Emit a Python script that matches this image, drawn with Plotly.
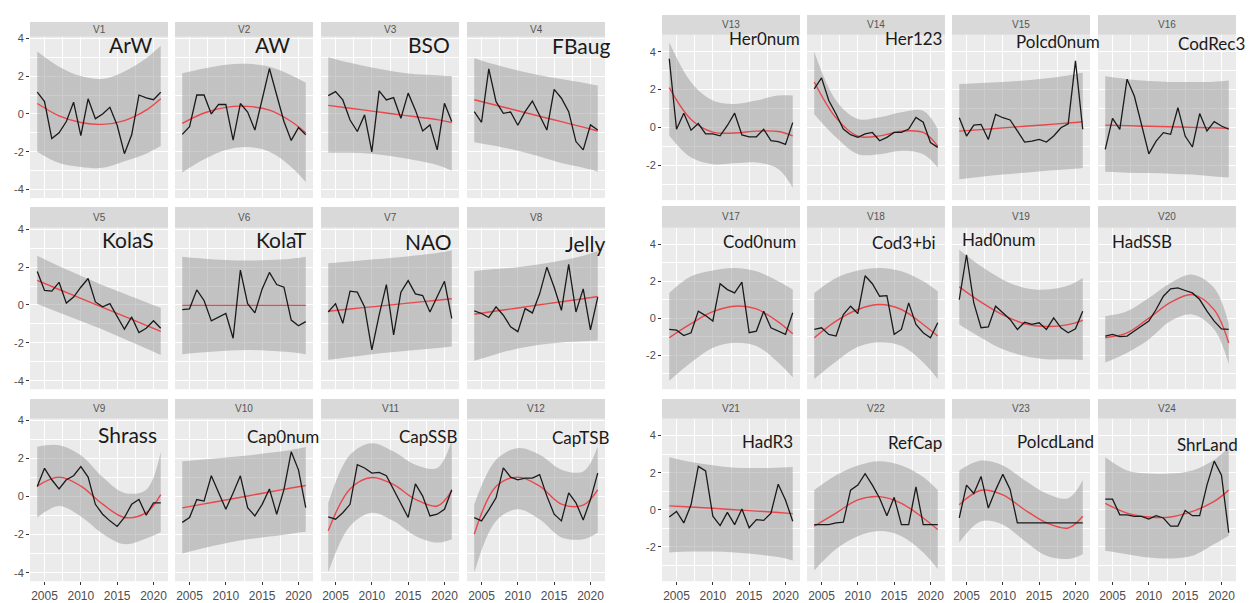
import plotly.graph_objects as go

# ---------------- data ----------------
YEARS = list(range(2004, 2022))
FIT_YEARS = [2004, 2007, 2010, 2013, 2016, 2019, 2021]
PANELS = ["V%d" % k for k in range(1, 25)]
LABELS = ["ArW", "AW", "BSO", "FBaug", "KolaS", "KolaT", "NAO", "Jelly",
          "Shrass", "Cap0num", "CapSSB", "CapTSB",
          "Her0num", "Her123", "Polcd0num", "CodRec3", "Cod0num", "Cod3+bi",
          "Had0num", "HadSSB", "HadR3", "RefCap", "PolcdLand", "ShrLand"]
X_TICKS = [2005, 2010, 2015, 2020]
X_MINOR = [2002.5, 2007.5, 2012.5, 2017.5]
Y_TICKS_LEFT = [-4, -2, 0, 2, 4]
Y_TICKS_RIGHT = [-2, 0, 2, 4]
Y_MINOR = [-3, -1, 1, 3]

V1_obs = [1.15, 0.65, -1.3, -1.0, -0.4, 0.62, -1.15, 0.8, -0.25, 0.0, 0.35, -0.6, -2.1, -1.1, 1.0, 0.85, 0.75, 1.15]
V1_fit = [0.55, -0.1, -0.45, -0.55, -0.35, 0.2, 0.8]
V1_lo = [-2.0, -2.6, -2.8, -2.85, -2.5, -2.1, -1.7]
V1_hi = [3.3, 2.5, 2.0, 1.85, 2.25, 2.95, 3.6]

V2_obs = [-1.08, -0.67, 1.0, 1.0, 0.0, 0.5, 0.5, -1.38, 0.55, 0.1, -0.85, 0.8, 2.4, 1.0, -0.4, -1.4, -0.72, -1.1]
V2_fit = [-0.5, 0.05, 0.35, 0.4, 0.2, -0.4, -1.0]
V2_lo = [-3.1, -2.4, -1.9, -1.75, -2.0, -2.8, -3.6]
V2_hi = [2.15, 2.4, 2.6, 2.65, 2.5, 2.05, 1.65]

V3_obs = [0.97, 1.18, 0.74, -0.32, -0.93, -0.05, -2.0, 1.22, 0.74, 0.86, -0.23, 1.1, 0.2, -0.9, -0.58, -1.9, 0.56, -0.4]
V3_fit = [0.45, 0.3, 0.15, 0.0, -0.15, -0.3, -0.45]
V3_lo = [-2.05, -2.05, -2.1, -2.25, -2.45, -2.7, -3.0]
V3_hi = [3.0, 2.7, 2.45, 2.25, 2.1, 2.05, 2.0]

V4_obs = [0.12, -0.44, 2.38, 0.65, 0.03, 0.1, -0.6, 0.12, 0.68, -0.05, -0.85, 1.3, 0.83, 0.12, -1.46, -1.9, -0.58, -0.85]
V4_fit = [0.75, 0.46, 0.17, -0.12, -0.41, -0.7, -0.9]
V4_lo = [-1.5, -1.7, -1.95, -2.25, -2.6, -2.85, -3.05]
V4_hi = [2.95, 2.6, 2.3, 2.05, 1.85, 1.65, 1.5]

V5_obs = [1.77, 0.77, 0.73, 1.2, 0.1, 0.42, 0.94, 1.4, 0.16, -0.1, 0.07, -0.63, -1.28, -0.63, -1.46, -1.23, -0.83, -1.23]
V5_fit = [1.3, 0.82, 0.35, -0.13, -0.6, -1.08, -1.4]
V5_lo = [0.05, -0.4, -0.85, -1.3, -1.8, -2.3, -2.65]
V5_hi = [2.6, 2.05, 1.55, 1.05, 0.6, 0.15, -0.15]

V6_obs = [-0.24, -0.2, 0.8, 0.24, -0.84, -0.66, -0.45, -1.76, 1.84, 0.07, -0.42, 0.85, 1.72, 1.08, 0.94, -0.8, -1.1, -0.88]
V6_fit = [-0.02, -0.02, -0.02, -0.02, -0.02, -0.02, -0.02]
V6_lo = [-2.6, -2.5, -2.42, -2.38, -2.42, -2.5, -2.6]
V6_hi = [2.55, 2.45, 2.38, 2.35, 2.38, 2.45, 2.55]

V7_obs = [-0.37, 0.07, -0.97, 0.73, 0.68, -0.1, -2.37, -0.54, 1.08, -1.58, 0.68, 1.29, 0.59, 0.5, -0.37, 0.42, 1.25, -0.71]
V7_fit = [-0.33, -0.21, -0.1, 0.02, 0.14, 0.25, 0.33]
V7_lo = [-2.9, -2.75, -2.6, -2.48, -2.38, -2.28, -2.2]
V7_hi = [2.2, 2.3, 2.4, 2.5, 2.62, 2.75, 2.9]

V8_obs = [-0.31, -0.45, -0.66, -0.1, -0.54, -1.15, -1.41, -0.19, -0.42, 0.59, 2.0, 0.94, -0.28, 2.15, -0.37, 0.85, -1.32, 0.42]
V8_fit = [-0.49, -0.32, -0.16, 0.01, 0.17, 0.33, 0.45]
V8_lo = [-2.95, -2.6, -2.3, -2.1, -1.98, -1.92, -1.88]
V8_hi = [1.8, 1.9, 2.0, 2.15, 2.35, 2.6, 2.85]

V9_obs = [0.53, 1.48, 0.88, 0.4, 0.88, 1.09, 1.57, 1.02, -0.41, -0.93, -1.28, -1.57, -1.1, -0.41, -0.16, -0.98, -0.33, -0.33]
V9_fit = [0.55, 1.02, 0.55, -0.4, -1.1, -0.85, 0.1]
V9_lo = [-1.1, -0.5, -1.05, -1.95, -2.5, -2.2, -1.88]
V9_hi = [2.62, 2.7, 2.17, 1.02, 0.19, 0.36, 2.35]

V10_obs = [-1.36, -1.1, -0.16, -0.24, 1.09, 0.19, -0.67, 0.19, 1.09, -0.59, -1.02, -0.41, 0.4, -0.93, 0.36, 2.35, 1.4, -0.59]
V10_fit = [-0.6, -0.39, -0.18, 0.03, 0.24, 0.45, 0.58]
V10_lo = [-3.0, -2.7, -2.45, -2.25, -2.1, -1.95, -1.85]
V10_hi = [1.85, 1.95, 2.05, 2.15, 2.3, 2.45, 2.6]

V11_obs = [-1.07, -1.19, -0.85, -0.41, 1.67, 1.5, 1.23, 1.27, 1.09, 0.36, -0.41, -1.1, 0.66, 0.02, -1.02, -0.93, -0.67, 0.36]
V11_fit = [-1.8, 0.4, 1.0, 0.62, -0.15, -0.5, 0.3]
V11_lo = [-3.98, -1.55, -0.85, -1.29, -2.07, -2.42, -2.24]
V11_hi = [-0.33, 2.19, 2.8, 2.36, 1.67, 1.5, 2.97]

V12_obs = [-1.11, -1.28, -0.7, -0.07, 1.5, 1.02, 0.88, 0.97, 0.97, 1.15, 0.02, -0.93, -1.28, 0.19, -0.33, -1.23, -0.16, 1.23]
V12_fit = [-1.98, 0.53, 1.02, 0.55, -0.4, -0.45, 0.35]
V12_lo = [-4.0, -1.29, -0.67, -1.2, -2.15, -2.24, -1.9]
V12_hi = [-0.41, 1.93, 2.54, 2.19, 1.41, 1.32, 2.63]

V13_obs = [3.63, -0.1, 0.75, -0.15, 0.2, -0.35, -0.35, -0.45, 0.1, 0.75, -0.4, -0.5, -0.5, -0.1, -0.7, -0.75, -0.9, 0.25]
V13_fit = [2.1, 0.42, -0.25, -0.3, -0.2, -0.22, -0.45]
V13_lo = [-0.44, -1.6, -1.95, -1.9, -1.86, -2.2, -3.2]
V13_hi = [4.5, 2.39, 1.42, 1.24, 1.42, 1.68, 1.68]

V14_obs = [2.04, 2.62, 1.42, 0.71, -0.09, -0.39, -0.53, -0.35, -0.27, -0.71, -0.53, -0.27, -0.27, -0.09, 0.53, 0.27, -0.8, -1.06]
V14_fit = [2.4, 0.5, -0.47, -0.45, -0.2, -0.27, -1.0]
V14_lo = [0.7, -0.53, -1.42, -1.42, -1.24, -1.42, -2.12]
V14_hi = [4.0, 1.42, 0.44, 0.53, 0.8, 0.88, -0.09]

V15_obs = [0.51, -0.46, 0.12, 0.16, -0.64, 0.69, 0.51, 0.39, -0.19, -0.78, -0.73, -0.64, -0.78, -0.46, -0.02, 0.19, 3.52, -0.1]
V15_fit = [-0.2, -0.12, -0.03, 0.06, 0.14, 0.23, 0.3]
V15_lo = [-2.75, -2.62, -2.5, -2.4, -2.3, -2.22, -2.15]
V15_hi = [2.3, 2.35, 2.4, 2.48, 2.6, 2.75, 2.9]

V16_obs = [-1.17, 0.48, -0.11, 2.55, 1.66, 0.07, -1.4, -0.73, -0.28, -0.37, 1.04, -0.46, -1.04, 0.73, -0.19, 0.3, 0.07, -0.1]
V16_fit = [0.12, 0.09, 0.06, 0.03, 0.0, -0.03, -0.05]
V16_lo = [-2.35, -2.4, -2.42, -2.45, -2.5, -2.6, -2.65]
V16_hi = [2.7, 2.55, 2.45, 2.4, 2.4, 2.42, 2.48]

V17_obs = [-0.61, -0.65, -0.94, -0.79, 0.38, 0.14, -0.16, 1.87, 1.55, 1.37, 1.95, -0.79, -0.7, 0.38, -0.52, -0.7, -0.88, 0.29]
V17_fit = [-1.06, -0.3, 0.35, 0.65, 0.5, -0.2, -0.85]
V17_lo = [-3.4, -2.41, -1.6, -1.33, -1.51, -2.41, -3.22]
V17_hi = [1.37, 2.27, 2.59, 2.72, 2.54, 2.0, 1.55]

V18_obs = [-0.61, -0.52, -0.88, -0.97, 0.2, 0.65, 0.25, 2.3, 1.87, 1.19, 1.22, -0.88, -0.61, 0.83, -0.34, -0.79, -1.06, -0.25]
V18_fit = [-1.06, -0.16, 0.47, 0.74, 0.47, -0.34, -0.97]
V18_lo = [-3.3, -2.35, -1.55, -1.3, -1.5, -2.4, -3.3]
V18_hi = [1.37, 2.18, 2.59, 2.72, 2.54, 2.0, 1.46]

V19_obs = [1.0, 3.44, 0.83, -0.52, -0.47, 0.65, 0.29, -0.07, -0.61, -0.22, -0.34, -0.25, -0.61, 0.02, -0.52, -0.79, -0.58, 0.38]
V19_fit = [1.7, 0.87, 0.18, -0.3, -0.45, -0.35, -0.12]
V19_lo = [-0.34, -1.06, -1.69, -2.05, -2.23, -2.23, -2.27]
V19_hi = [3.71, 2.81, 2.09, 1.64, 1.55, 1.77, 2.18]

V20_obs = [-0.97, -0.88, -1.0, -0.97, -0.7, -0.43, -0.16, 0.47, 1.19, 1.59, 1.64, 1.5, 1.37, 1.01, 0.38, -0.16, -0.58, -0.61]
V20_fit = [-1.06, -0.8, 0.0, 0.85, 1.28, 0.45, -1.35]
V20_lo = [-2.41, -1.87, -1.15, -0.16, 0.2, -0.61, -2.5]
V20_hi = [0.11, 0.38, 1.1, 1.91, 2.36, 1.64, -0.3]

V21_obs = [-0.39, -0.09, -0.71, 0.27, 2.34, 2.09, -0.35, -0.85, -0.14, -0.8, 0.04, -0.97, -0.53, -0.57, -0.18, 1.38, 0.53, -0.62]
V21_fit = [0.21, 0.15, 0.08, 0.0, -0.07, -0.15, -0.21]
V21_lo = [-2.3, -2.25, -2.25, -2.3, -2.4, -2.55, -2.74]
V21_hi = [2.83, 2.57, 2.4, 2.27, 2.25, 2.27, 2.3]

V22_obs = [-0.8, -0.8, -0.8, -0.71, -0.67, 1.06, 1.33, 1.95, 1.33, 0.62, -0.32, 0.67, -0.8, -0.8, 1.24, -0.8, -0.8, -0.8]
V22_fit = [-0.88, -0.18, 0.53, 0.71, 0.35, -0.44, -1.06]
V22_lo = [-3.27, -2.12, -1.42, -1.15, -1.42, -2.3, -3.19]
V22_hi = [1.06, 1.86, 2.39, 2.62, 2.39, 1.77, 1.06]

V23_obs = [-0.44, 1.33, 0.88, 1.8, 0.09, 1.06, 1.91, 1.1, -0.71, -0.71, -0.71, -0.71, -0.71, -0.71, -0.71, -0.71, -0.71, -0.71]
V23_fit = [0.27, 1.05, 0.8, 0.0, -0.7, -0.98, -0.35]
V23_lo = [-1.77, -0.62, -0.8, -1.68, -2.48, -2.65, -2.39]
V23_hi = [2.12, 2.65, 2.39, 1.59, 0.88, 0.62, 1.59]

V24_obs = [0.57, 0.57, -0.27, -0.27, -0.35, -0.35, -0.5, -0.32, -0.44, -0.88, -0.88, -0.04, -0.32, -0.32, 1.33, 2.62, 1.86, -1.24]
V24_fit = [0.35, -0.18, -0.39, -0.39, -0.09, 0.45, 1.06]
V24_lo = [-2.21, -2.39, -2.57, -2.62, -2.48, -1.85, -1.4]
V24_hi = [2.83, 2.12, 1.95, 1.95, 2.12, 2.7, 3.36]

OBS = [V1_obs, V2_obs, V3_obs, V4_obs, V5_obs, V6_obs, V7_obs, V8_obs, V9_obs, V10_obs, V11_obs, V12_obs,
       V13_obs, V14_obs, V15_obs, V16_obs, V17_obs, V18_obs, V19_obs, V20_obs, V21_obs, V22_obs, V23_obs, V24_obs]
FIT = [V1_fit, V2_fit, V3_fit, V4_fit, V5_fit, V6_fit, V7_fit, V8_fit, V9_fit, V10_fit, V11_fit, V12_fit,
       V13_fit, V14_fit, V15_fit, V16_fit, V17_fit, V18_fit, V19_fit, V20_fit, V21_fit, V22_fit, V23_fit, V24_fit]
LO = [V1_lo, V2_lo, V3_lo, V4_lo, V5_lo, V6_lo, V7_lo, V8_lo, V9_lo, V10_lo, V11_lo, V12_lo,
      V13_lo, V14_lo, V15_lo, V16_lo, V17_lo, V18_lo, V19_lo, V20_lo, V21_lo, V22_lo, V23_lo, V24_lo]
HI = [V1_hi, V2_hi, V3_hi, V4_hi, V5_hi, V6_hi, V7_hi, V8_hi, V9_hi, V10_hi, V11_hi, V12_hi,
      V13_hi, V14_hi, V15_hi, V16_hi, V17_hi, V18_hi, V19_hi, V20_hi, V21_hi, V22_hi, V23_hi, V24_hi]

# ---------------- layout geometry (page pixels) ----------------
PAGE_W, PAGE_H = 1254, 603
OFF = 8                       # default <body> margin of the html page
W, H = PAGE_W - OFF, PAGE_H - OFF
PW = 138
COL_LEFT = [[30, 175, 321, 467], [662, 807, 952, 1098]]
ROWS = [[(17, 32, 195), (204, 225, 388), (398, 418, 582)],
        [(10, 30, 197), (203, 225, 388), (398, 418, 582)]]
YRANGE = [[-4.45, 4.08], [-3.85, 4.9]]
XRANGE = [2003.0, 2022.0]
LABEL_POS = [(131, 40), (272, 40), (429, 40), (581, 41),
             (128, 237), (281, 237), (428, 239), (585, 241),
             (127, 434), (283, 436), (428, 436), (580, 437),
             (764, 34), (913, 34), (1058, 37), (1211, 39),
             (759, 239), (904, 240), (999, 237), (1142, 239),
             (767, 441), (915, 442), (1055, 441), (1207, 444)]
LABEL_SIZE = [21, 21, 21, 21, 21, 21, 21, 21, 21, 17, 17, 17,
              17, 17, 17, 17, 17, 17, 17, 17, 17, 17, 17, 17]


def px(x):
    return (x - OFF) / W


def py(y):
    return 1 - (y - OFF) / H


BG = "#EBEBEB"
STRIP = "#D9D9D9"
RIBBON = "rgba(153,153,153,0.5)"
RED = "#E8474C"
BLACK = "#1A1A1A"
TICKFONT = dict(family="Liberation Sans, Arial, sans-serif", size=11, color="#4D4D4D")
LABFONT = "Lato, Carlito, Calibri, sans-serif"

fig = go.Figure()
shapes = []
annotations = []
layout = {}

for i in range(24):
    side = 0 if i < 12 else 1
    j = i % 12
    r, c = divmod(j, 4)
    x0 = COL_LEFT[side][c]
    x1 = x0 + PW
    st, sb, pb = ROWS[side][r]
    n = i + 1
    xn = "x" if n == 1 else "x%d" % n
    yn = "y" if n == 1 else "y%d" % n
    bottom = (r == 2)
    leftmost = (c == 0)
    yt = Y_TICKS_LEFT if side == 0 else Y_TICKS_RIGHT

    layout["xaxis" if n == 1 else "xaxis%d" % n] = dict(
        domain=[px(x0), px(x1)], range=XRANGE, anchor=yn,
        showgrid=True, gridcolor="white", gridwidth=1.1, zeroline=False,
        showline=False, tickvals=X_TICKS, ticktext=[str(v) for v in X_TICKS],
        showticklabels=bottom, ticks="outside" if bottom else "",
        ticklen=3, tickcolor="#333333", tickwidth=1,
        tickfont=dict(family=TICKFONT["family"], size=12, color="#4D4D4D"),
        minor=dict(tickvals=X_MINOR, showgrid=True, gridcolor="white", gridwidth=0.5, ticks=""),
        fixedrange=True)
    layout["yaxis" if n == 1 else "yaxis%d" % n] = dict(
        domain=[py(pb), py(sb)], range=YRANGE[side], anchor=xn,
        showgrid=True, gridcolor="white", gridwidth=1.1, zeroline=False,
        showline=False, tickvals=yt, ticktext=[str(v) for v in yt],
        showticklabels=leftmost, ticks="outside" if leftmost else "",
        ticklen=3, tickcolor="#333333", tickwidth=1, tickfont=TICKFONT,
        minor=dict(tickvals=Y_MINOR, showgrid=True, gridcolor="white", gridwidth=0.5, ticks=""),
        fixedrange=True)

    # strip
    shapes.append(dict(type="rect", xref="paper", yref="paper",
                       x0=px(x0), x1=px(x1), y0=py(sb), y1=py(st),
                       fillcolor=STRIP, line=dict(width=0), layer="below"))
    annotations.append(dict(xref="paper", yref="paper", x=px((x0 + x1) / 2),
                            y=py((st + sb) / 2), text=PANELS[i], showarrow=False,
                            xanchor="center", yanchor="middle",
                            font=dict(family=TICKFONT["family"], size=10, color="#555555")))
    # big label
    lx, ly = LABEL_POS[i]
    annotations.append(dict(xref="paper", yref="paper", x=px(lx), y=py(ly),
                            text=LABELS[i], showarrow=False, xanchor="center", yanchor="middle",
                            font=dict(family=LABFONT, size=LABEL_SIZE[i], color="#1A1A1A")))

    # ribbon
    fig.add_trace(go.Scatter(x=FIT_YEARS, y=LO[i], mode="lines", xaxis=xn, yaxis=yn,
                             line=dict(width=0, shape="spline", smoothing=1.0),
                             showlegend=False, hoverinfo="skip"))
    fig.add_trace(go.Scatter(x=FIT_YEARS, y=HI[i], mode="lines", xaxis=xn, yaxis=yn,
                             line=dict(width=0, shape="spline", smoothing=1.0),
                             fill="tonexty", fillcolor=RIBBON,
                             showlegend=False, hoverinfo="skip"))
    # fitted
    fig.add_trace(go.Scatter(x=FIT_YEARS, y=FIT[i], mode="lines", xaxis=xn, yaxis=yn,
                             line=dict(width=1.4, color=RED, shape="spline", smoothing=1.0),
                             showlegend=False, hoverinfo="skip"))
    # observed
    fig.add_trace(go.Scatter(x=YEARS, y=OBS[i], mode="lines", xaxis=xn, yaxis=yn,
                             line=dict(width=1.3, color=BLACK),
                             showlegend=False, name=LABELS[i]))

fig.update_layout(**layout)
fig.update_layout(width=W, height=H, margin=dict(l=0, r=0, t=0, b=0),
                  paper_bgcolor="white", plot_bgcolor=BG,
                  shapes=shapes, annotations=annotations, showlegend=False)

fig.write_html("out.html")
